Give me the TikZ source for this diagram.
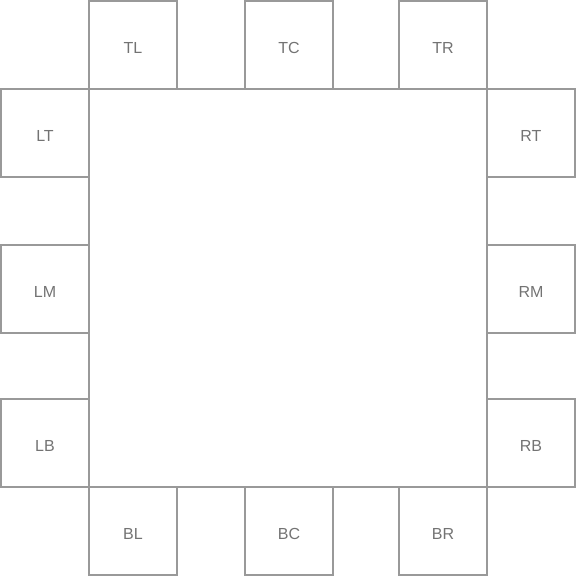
\documentclass[tikz,border=0pt]{standalone}
\usepackage{fontspec}
\setmainfont{Liberation Sans}
\begin{document}
\begin{tikzpicture}[x=1pt,y=-1pt,
  edge/.style={draw=black!40,line width=1.6pt},
  lbl/.style={text=black!55,font=\fontsize{16}{18}\selectfont,text height=17pt,text depth=0pt}]
\useasboundingbox (0,0) rectangle (576,576);
\draw[edge] (89,89) rectangle (487,487);
\foreach \n/\x/\y in {TL/133/45, TC/289/45, TR/443/45,
                       LT/45/133, LM/45/289, LB/45/443,
                       RT/531/133, RM/531/289, RB/531/443,
                       BL/133/531, BC/289/531, BR/443/531}{
  \node[edge,lbl,minimum width=88pt,minimum height=88pt,inner sep=0pt] (\n) at (\x,\y) {\n};
}
\end{tikzpicture}
\end{document}
